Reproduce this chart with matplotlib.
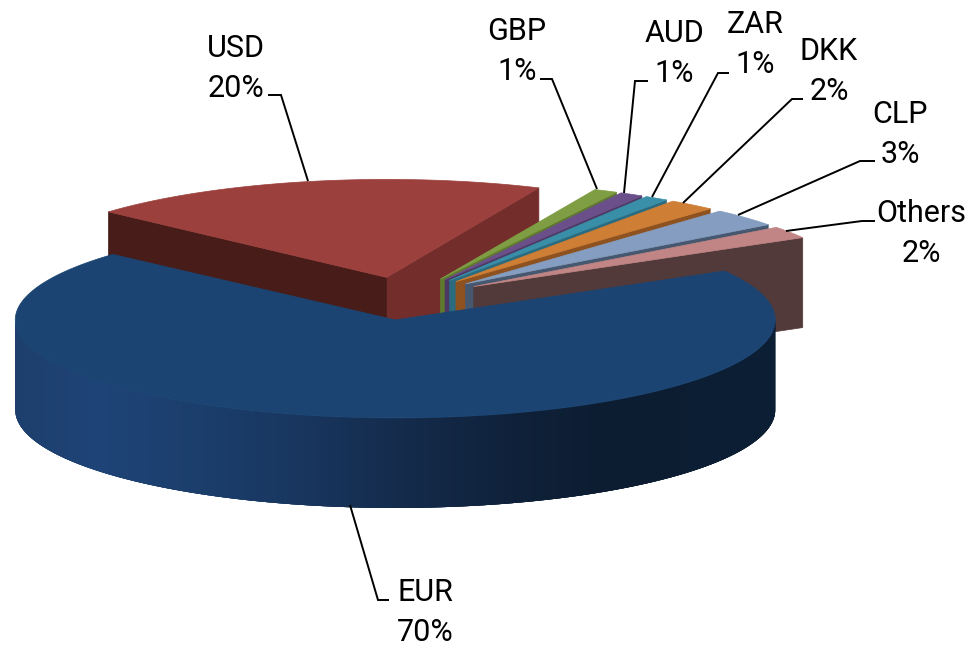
import numpy as np
import matplotlib
matplotlib.use("Agg")
import matplotlib.pyplot as plt
from matplotlib.colors import to_rgb
from matplotlib.patches import Polygon

# currency split, starting at the EUR slice and going round the pie
currencies = ["EUR", "USD", "GBP", "AUD", "ZAR", "DKK", "CLP", "Others"]
shares = [70, 20, 1, 1, 1, 2, 3, 2]

top_colors = ["#1b4472", "#9c403d", "#7f9e44", "#6a4f8a", "#3a8fa8", "#cf7e35", "#849dc0", "#c08584"]
wall_colors = ["#1b4472", "#732d2b", "#5f7a2d", "#4d3864", "#2a6b7f", "#8e5220", "#46586f", "#533a3a"]
usd_front_wall = "#471c19"

# leader lines and label anchors, in figure pixels
leaders = {
    "EUR": [(350, 505), (378, 600), (389, 600)],
    "USD": [(268, 95), (281, 95), (308, 181)],
    "GBP": [(540, 79), (552, 79), (597, 189)],
    "AUD": [(648, 81), (635, 81), (624, 193)],
    "ZAR": [(729, 73), (718, 73), (652, 197)],
    "DKK": [(803, 99), (792, 99), (683, 203)],
    "CLP": [(875, 161), (860, 161), (738, 215)],
    "Others": [(875, 221), (862, 221), (786, 231)],
}
label_pos = {
    "EUR": (425, 601, 641),
    "USD": (236, 57, 97),
    "GBP": (517, 40, 80),
    "AUD": (674, 42, 82),
    "ZAR": (755, 33, 73),
    "DKK": (829, 60, 100),
    "CLP": (900, 123, 163),
    "Others": (921, 222, 262),
}

# pie geometry
cx, cy = 404, 298.5
rx, ry = 380, 98
depth = 90
explode = 0.22
start_angle = -30
usd_squeeze = 0.985  # the USD slice sits further back and reads a bit narrower

# shading along the outer rim of the big slice
rim_x = [14, 100, 200, 300, 400, 520, 600, 775]
rim_col = ["#1d3f6d", "#1e4376", "#1b3e6c", "#18365f", "#142b4c", "#0f2139", "#0c1d32", "#0c1e33"]

fig = plt.figure(figsize=(9.67, 6.47), dpi=100)
ax = fig.add_axes([0, 0, 1, 1])
ax.set_xlim(0, 967)
ax.set_ylim(647, 0)
ax.axis("off")


def rim(c, a0, a1, n=120, sx=1.0):
    t = np.radians(np.linspace(a0, a1, n))
    return np.column_stack([c[0] + sx * rx * np.cos(t), c[1] + ry * np.sin(t)])


def down(p):
    return (p[0], p[1] + depth)


# work out angles and exploded centres for each slice
angles = start_angle + np.concatenate([[0], np.cumsum(shares)]) * 3.6
centers = []
for i in range(len(shares)):
    mid = np.radians((angles[i] + angles[i + 1]) / 2)
    centers.append((cx + explode * rx * np.cos(mid), cy + explode * ry * np.sin(mid)))

# back slices first: USD, then the small ones, EUR goes last
for i in [1, 2, 3, 4, 5, 6, 7]:
    c = centers[i]
    arc = rim(c, angles[i], angles[i + 1], sx=usd_squeeze if i == 1 else 1.0)
    end = arc[-1]
    ax.add_patch(Polygon([c, end, down(end), down(c)], closed=True, fc=wall_colors[i], ec=wall_colors[i], lw=0.5))
    if i == 1:
        begin = arc[0]
        ax.add_patch(Polygon([c, begin, down(begin), down(c)], closed=True, fc=usd_front_wall, ec=usd_front_wall, lw=0.5))
    ax.add_patch(Polygon(np.vstack([[c], arc]), closed=True, fc=top_colors[i], ec=top_colors[i], lw=0.5))

# EUR rim as thin overlapping strips so the shading can follow x
c = centers[0]
pts = rim(c, 0, 180, 361)
rgb = np.array([to_rgb(h) for h in rim_col])
for k in range(len(pts) - 1):
    a, b = pts[k], pts[min(k + 4, len(pts) - 1)]
    col = [np.interp(a[0], rim_x, rgb[:, j]) for j in range(3)]
    ax.add_patch(Polygon([a, b, down(b), down(a)], closed=True, fc=col, ec="none", lw=0))

arc = rim(c, angles[0], angles[1], 300)
ax.add_patch(Polygon(np.vstack([[c], arc]), closed=True, fc=top_colors[0], ec=top_colors[0], lw=0.5))

font = ["Roboto", "Liberation Sans"]
for name, share in zip(currencies, shares):
    xs, ys = zip(*leaders[name])
    ax.plot(xs, ys, color="black", lw=1.4, solid_joinstyle="miter", solid_capstyle="butt")
    x, y1, y2 = label_pos[name]
    ax.text(x, y1, name, ha="center", va="baseline", fontsize=22, family=font, color="black")
    ax.text(x, y2, f"{share}%", ha="center", va="baseline", fontsize=22, family=font, color="black")

fig.savefig("out.png", dpi=100)
